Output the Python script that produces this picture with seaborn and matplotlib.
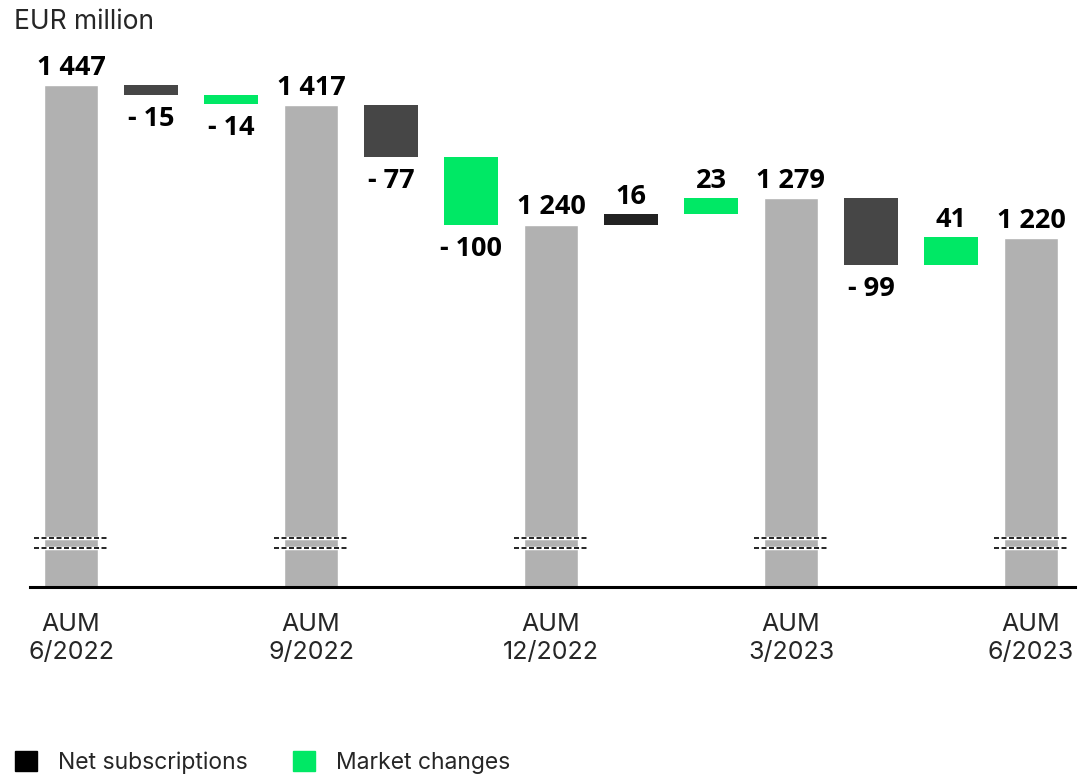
import pandas as pd
import matplotlib
matplotlib.use("Agg")
import matplotlib.pyplot as plt
from matplotlib.patches import Patch
import seaborn as sns

# Waterfall steps (EUR million)
steps = ["AUM 6/2022", "ns1", "mc1", "AUM 9/2022", "ns2", "mc2", "AUM 12/2022",
         "ns3", "mc3", "AUM 3/2023", "ns4", "mc4", "AUM 6/2023"]
kinds = ["aum", "net", "market", "aum", "net", "market", "aum",
         "net", "market", "aum", "net", "market", "aum"]
values = [1447, -15, -14, 1417, -77, -100, 1240, 16, 23, 1279, -99, 41, 1220]
aum_labels = ["AUM\n6/2022", "AUM\n9/2022", "AUM\n12/2022", "AUM\n3/2023", "AUM\n6/2023"]

colors = {"aum": "#b1b1b1", "net": "#464646", "market": "#00e865"}
net_colors = ["#464646", "#464646", "#222222", "#464646"]

df = pd.DataFrame({"step": steps, "kind": kinds, "value": values})
df["pos"] = range(len(df))

# running level: resets at every AUM bar
starts, ends = [], []
level = 0
for k, v in zip(df["kind"], df["value"]):
    if k == "aum":
        starts.append(0)
        ends.append(v)
        level = v
    else:
        starts.append(level)
        level = level + v
        ends.append(level)
df["start"] = starts
df["end"] = ends

sns.set_theme(style="white")
plt.rcParams["font.family"] = ["Inter", "DejaVu Sans"]

fig = plt.figure(figsize=(10.79, 7.75), dpi=100)
ax = fig.add_axes([30 / 1079, 188 / 775, 1045 / 1079, 547 / 775])

aum = df[df["kind"] == "aum"]
sns.barplot(data=aum, x="step", y="value", order=steps, color=colors["aum"],
            width=0.68, saturation=1, ax=ax)

flo = df[df["kind"] != "aum"].reset_index(drop=True)
ni = 0
for _, r in flo.iterrows():
    if r["kind"] == "net":
        c = net_colors[ni]
        ni += 1
    else:
        c = colors["market"]
    lo = min(r["start"], r["end"])
    ax.bar(r["pos"], abs(r["end"] - r["start"]), bottom=lo, width=0.68,
           color=c, linewidth=0)

ymin = 703
ax.set_ylim(ymin, ymin + 547 / 0.675)
ax.set_xlim(-0.5125, 12.55)

# value labels
for _, r in df.iterrows():
    v = r["value"]
    txt = f"{abs(v):,}".replace(",", " ")
    if v < 0:
        txt = "- " + txt
        y, va, off = min(r["start"], r["end"]), "top", -8
    else:
        y, va, off = max(r["start"], r["end"]), "bottom", 3
    ax.annotate(txt, (r["pos"], y), xytext=(0, off), textcoords="offset points",
                ha="center", va=va, fontsize=19.5, fontweight="bold",
                family=["Open Sans", "Liberation Sans", "DejaVu Sans"], color="black")

# axis break marks on AUM bars
for p in aum["pos"]:
    for yb in (761, 776):
        ax.plot([p - 0.46, p + 0.46], [yb, yb], color="white", lw=2.5,
                solid_capstyle="butt", zorder=3)
        ax.plot([p - 0.46, p + 0.46], [yb, yb], color="black", lw=1.2,
                linestyle=(0, (3, 1.5)), zorder=4)

ax.set_xticks(aum["pos"].tolist())
ax.set_xticklabels(aum_labels, fontsize=18, linespacing=1.25)
ax.tick_params(axis="x", length=0, pad=19)
ax.set_yticks([])
ax.set_xlabel("")
ax.set_ylabel("")
sns.despine(ax=ax, left=True)
ax.spines["bottom"].set_color("black")
ax.spines["bottom"].set_linewidth(2.2)

fig.text(14 / 1079, 1 - 22 / 775, "EUR million", fontsize=19, va="center", ha="left")

handles = [Patch(color="black", label="Net subscriptions"),
           Patch(color=colors["market"], label="Market changes")]
fig.legend(handles=handles, loc="lower left", bbox_to_anchor=(-0.005, -0.025),
           ncol=2, frameon=False, fontsize=16.5, handlelength=0.95, handleheight=1.0,
           handletextpad=0.9, columnspacing=2.0)

fig.savefig("out.png", dpi=100)
